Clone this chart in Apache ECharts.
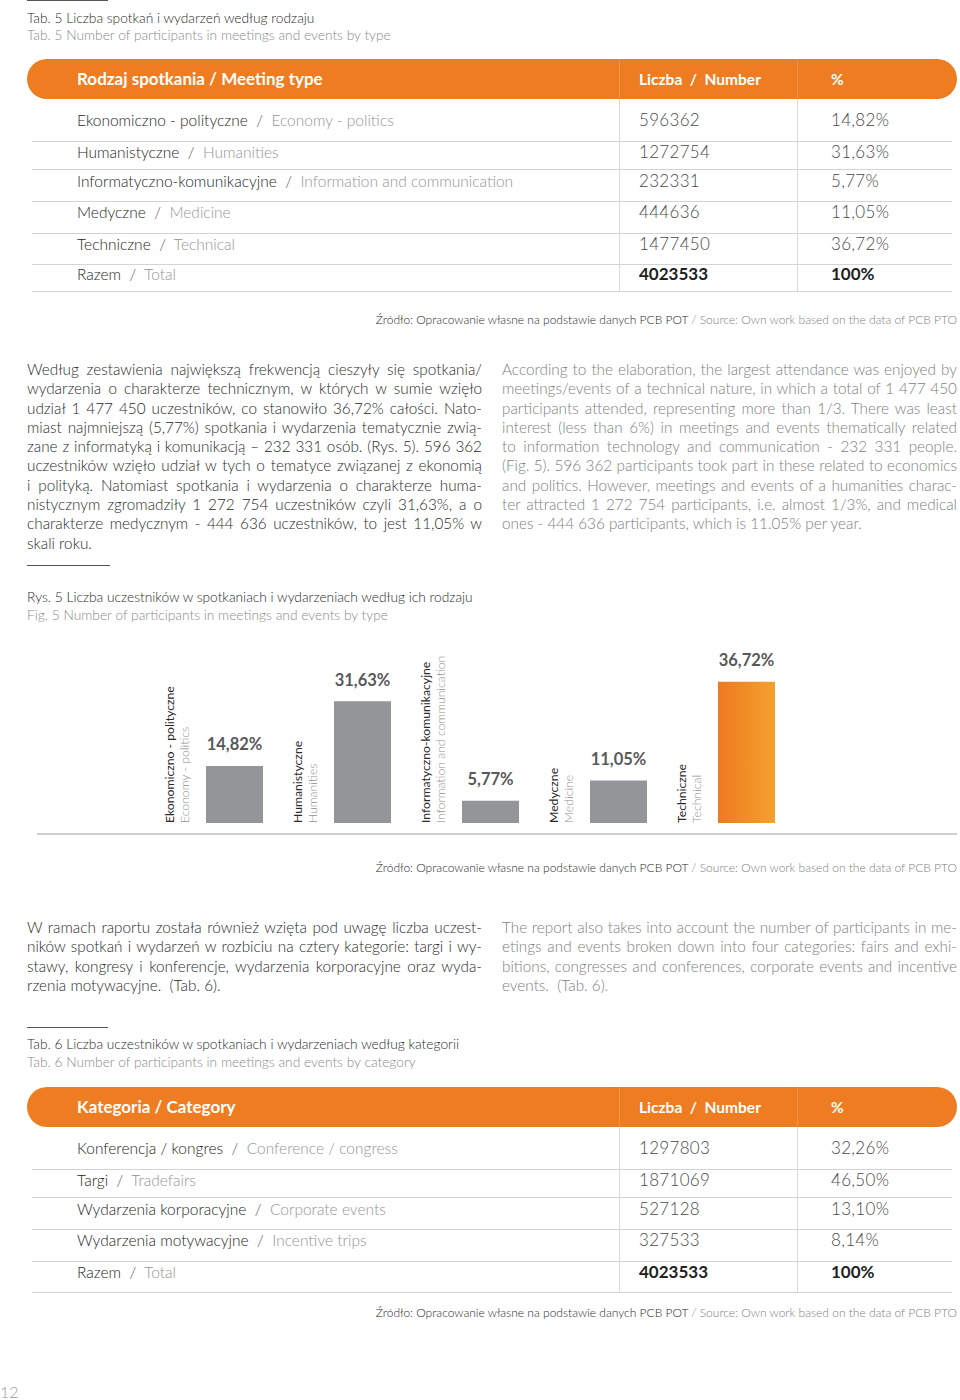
<!DOCTYPE html>
<html><head><meta charset="utf-8">
<script src="https://cdn.jsdelivr.net/npm/echarts@6/dist/echarts.min.js"></script>
<style>
body{margin:0;background:#fff;font-family:Lato,'Noto Sans',sans-serif;}
#page{position:relative;width:960px;height:1400px;overflow:hidden;}
.a{position:absolute;white-space:nowrap;line-height:20px;}
.rule{position:absolute;height:1px;background:#555;}
.capPL{font-size:13.75px;color:#2a2a2a;font-weight:300;}
.capEN{font-size:13.75px;color:#8a8a8a;font-weight:300;}
.hdr{position:absolute;left:27px;width:930px;height:40px;background:#EE7D22;border-radius:20px;}
.hdr .t{position:absolute;top:0;line-height:40px;color:#fff;font-weight:700;white-space:nowrap;}
.hdr .v{position:absolute;top:0;width:1px;height:40px;background:rgba(255,255,255,0.18);}
.cellName{position:absolute;left:77px;font-size:15.5px;color:#1e1e1e;font-weight:300;white-space:nowrap;line-height:20px;}
.cellName .en{color:#959595;font-weight:300;}
.cellName .sl{color:#555;}
.cellNum{position:absolute;left:639px;font-size:17px;letter-spacing:0.3px;color:#4a4a4a;font-weight:300;line-height:20px;}
.cellPct{position:absolute;left:831px;font-size:17px;letter-spacing:0.3px;color:#4a4a4a;font-weight:300;line-height:20px;}
.bold{font-weight:700 !important;color:#222 !important;letter-spacing:0 !important;}
.hline{position:absolute;left:32px;width:920px;height:1px;background:#d4d4d4;}
.vline{position:absolute;width:1px;background:#dadada;}
.para{position:absolute;width:455px;font-size:15.3px;line-height:19.3px;}
.para div{text-align:justify;text-align-last:justify;white-space:nowrap;}
.para div.last{text-align-last:left;}
.pl{color:#2a2a2a;font-weight:300;}
.en2{color:#7e7e7e;font-weight:300;}
.src{position:absolute;right:3px;font-size:12px;line-height:20px;white-space:nowrap;color:#2a2a2a;font-weight:300;}
.src .g{color:#808080;font-weight:300;}
#chart{position:absolute;left:0;top:630px;width:960px;height:210px;}
</style></head>
<body><div id="page"></div>
<script>
// ---------- DATA ----------
const meetingTypesPL = ['Ekonomiczno - polityczne','Humanistyczne','Informatyczno-komunikacyjne','Medyczne','Techniczne'];
const meetingTypesEN = ['Economy - politics','Humanities','Information and communication','Medicine','Technical'];
const meetingCounts = [596362, 1272754, 232331, 444636, 1477450];
const meetingShares = [14.82, 31.63, 5.77, 11.05, 36.72];
const meetingTotal = 4023533;

const categoriesPL = ['Konferencja / kongres','Targi','Wydarzenia korporacyjne','Wydarzenia motywacyjne'];
const categoriesEN = ['Conference / congress','Tradefairs','Corporate events','Incentive trips'];
const categoryCounts = [1297803, 1871069, 527128, 327533];
const categoryShares = [32.26, 46.50, 13.10, 8.14];
const categoryTotal = 4023533;

const fmtPct = v => v.toFixed(2).replace('.', ',') + '%';

// ---------- PAGE ----------
const page = document.getElementById('page');
function el(html){ const d=document.createElement('div'); d.innerHTML=html; const n=d.firstElementChild; page.appendChild(n); return n; }
function rule(x,y,w){ el(`<div class="rule" style="left:${x}px;top:${y}px;width:${w}px"></div>`); }
function text(cls,x,yc,t){ el(`<div class="a ${cls}" style="left:${x}px;top:${yc-10}px">${t}</div>`); }
function source(yc){
  el(`<div class="src" style="top:${yc-10}px">Źródło: Opracowanie własne na podstawie danych PCB POT <span class="g">/ Source: Own work based on the data of PCB PTO</span></div>`);
}
const rowTextOff = [21,53,82,113,145,175];
const rowLineOff = [42,70,102,134,165,192];
function table(top, title, pl, en, counts, shares, total){
  el(`<div class="hdr" style="top:${top}px">
      <div class="t" style="left:50px;font-size:17px">${title}</div>
      <div class="t" style="left:612px;font-size:15.5px">Liczba&nbsp;&nbsp;/&nbsp;&nbsp;Number</div>
      <div class="t" style="left:804px;font-size:15.5px">%</div>
      <div class="v" style="left:592px"></div><div class="v" style="left:770px"></div></div>`);
  const hb = top + 40;
  const rows = pl.map((p,i)=>({pl:p,en:en[i],n:String(counts[i]),s:fmtPct(shares[i]),b:false}));
  rows.push({pl:'Razem',en:'Total',n:String(total),s:'100%',b:true});
  rows.forEach((r,i)=>{
    const y = hb + rowTextOff[i] - 10;
    el(`<div class="cellName" style="top:${y}px">${r.pl}&nbsp; <span class="sl">/</span>&nbsp; <span class="en">${r.en}</span></div>`);
    el(`<div class="cellNum${r.b?' bold':''}" style="top:${y}px">${r.n}</div>`);
    el(`<div class="cellPct${r.b?' bold':''}" style="top:${y}px">${r.s}</div>`);
    el(`<div class="hline" style="top:${hb+rowLineOff[i]}px"></div>`);
  });
  const bottom = hb + rowLineOff[rows.length-1];
  el(`<div class="vline" style="left:619px;top:${hb}px;height:${bottom-hb}px"></div>`);
  el(`<div class="vline" style="left:797px;top:${hb}px;height:${bottom-hb}px"></div>`);
}
function para(x, top, cls, lines){
  const d = el(`<div class="para ${cls}" style="left:${x}px;top:${top}px"></div>`);
  d.innerHTML = lines.map((l,i)=>`<div${i===lines.length-1?' class="last"':''}>${l}</div>`).join('');
}

rule(27,0,81);
text('capPL',27,18,'Tab. 5 Liczba spotkań i wydarzeń według rodzaju');
text('capEN',27,35,'Tab. 5 Number of participants in meetings and events by type');
table(59,'Rodzaj spotkania / Meeting type',meetingTypesPL,meetingTypesEN,meetingCounts,meetingShares,meetingTotal);
source(320);

para(27,360,'pl',[
 'Według zestawienia największą frekwencją cieszyły się spotkania/',
 'wydarzenia o charakterze technicznym, w których w sumie wzięło',
 'udział 1 477 450 uczestników, co stanowiło 36,72% całości. Nato-',
 'miast najmniejszą (5,77%) spotkania i wydarzenia tematycznie zwią-',
 'zane z informatyką i komunikacją – 232 331 osób. (Rys. 5). 596 362',
 'uczestników wzięło udział w tych o tematyce związanej z ekonomią',
 'i polityką. Natomiast spotkania i wydarzenia o charakterze huma-',
 'nistycznym zgromadziły 1 272 754 uczestników czyli 31,63%, a o',
 'charakterze medycznym - 444 636 uczestników, to jest 11,05% w',
 'skali roku.']);
para(502,360,'en2',[
 'According to the elaboration, the largest attendance was enjoyed by',
 'meetings/events of a technical nature, in which a total of 1 477 450',
 'participants attended, representing more than 1/3. There was least',
 'interest (less than 6%) in meetings and events thematically related',
 'to information technology and communication - 232 331 people.',
 '(Fig. 5). 596 362 participants took part in these related to economics',
 'and politics. However, meetings and events of a humanities charac-',
 'ter attracted 1 272 754 participants, i.e. almost 1/3%, and medical',
 'ones - 444 636 participants, which is 11.05% per year.']);

rule(27,565,83);
text('capPL',27,597,'Rys. 5 Liczba uczestników w spotkaniach i wydarzeniach według ich rodzaju');
text('capEN',27,615,'Fig. 5 Number of participants in meetings and events by type');
el('<div id="chart"></div>');
el('<div style="position:absolute;left:37px;top:833px;width:920px;height:2px;background:#d0d0d0"></div>');
source(868);

para(27,918,'pl',[
 'W ramach raportu została również wzięta pod uwagę liczba uczest-',
 'ników spotkań i wydarzeń w rozbiciu na cztery kategorie: targi i wy-',
 'stawy, kongresy i konferencje, wydarzenia korporacyjne oraz wyda-',
 'rzenia motywacyjne.&nbsp; (Tab. 6).']);
para(502,918,'en2',[
 'The report also takes into account the number of participants in me-',
 'etings and events broken down into four categories: fairs and exhi-',
 'bitions, congresses and conferences, corporate events and incentive',
 'events.&nbsp; (Tab. 6).']);

rule(27,1027,81);
text('capPL',27,1044,'Tab. 6 Liczba uczestników w spotkaniach i wydarzeniach według kategorii');
text('capEN',27,1062,'Tab. 6 Number of participants in meetings and events by category');
table(1087,'Kategoria / Category',categoriesPL,categoriesEN,categoryCounts,categoryShares,categoryTotal);
source(1313);
el('<div class="a" style="left:0;top:1382px;font-size:16px;color:#9a9a9a;font-weight:300">12</div>');

// ---------- CHART ----------
const chart = echarts.init(document.getElementById('chart'), null, {renderer:'svg'});
const maxIdx = meetingShares.indexOf(Math.max(...meetingShares));
const orange = new echarts.graphic.LinearGradient(0,0,1,0,[{offset:0,color:'#EE7922'},{offset:1,color:'#F4A22C'}]);
chart.setOption({
  animation:false,
  grid:{left:170.5,right:149.5,top:39,bottom:17},
  xAxis:{type:'category',data:meetingTypesEN,axisLine:{show:false},axisTick:{show:false},axisLabel:{show:false}},
  yAxis:{type:'value',min:0,max:40,show:false,splitLine:{show:false}},
  series:[
    {type:'bar',barWidth:57,
     data:meetingShares.map((v,i)=>({value:v,itemStyle:{color:i===maxIdx?orange:'#939598'}})),
     label:{show:true,position:'top',distance:13,formatter:p=>fmtPct(p.value),
            color:'#58595B',fontSize:16.5,fontWeight:700,fontFamily:'Lato'}},
    {type:'custom',silent:true,clip:false,z:5,
     data:meetingTypesPL.map((n,i)=>[i,0]),
     renderItem:(params,api)=>{
       const p = api.coord([api.value(0),api.value(1)]);
       const i = params.dataIndex;
       return {type:'group',children:[
         {type:'text',x:p[0]-65,y:p[1],rotation:Math.PI/2,
          style:{text:meetingTypesPL[i],fill:'#2a2a2a',font:'400 12.2px Lato',align:'left',verticalAlign:'middle'}},
         {type:'text',x:p[0]-50.5,y:p[1],rotation:Math.PI/2,
          style:{text:meetingTypesEN[i],fill:'#8f8f8f',font:'300 12.2px Lato',align:'left',verticalAlign:'middle'}}
       ]};
     }}
  ]
});
</script></body></html>
